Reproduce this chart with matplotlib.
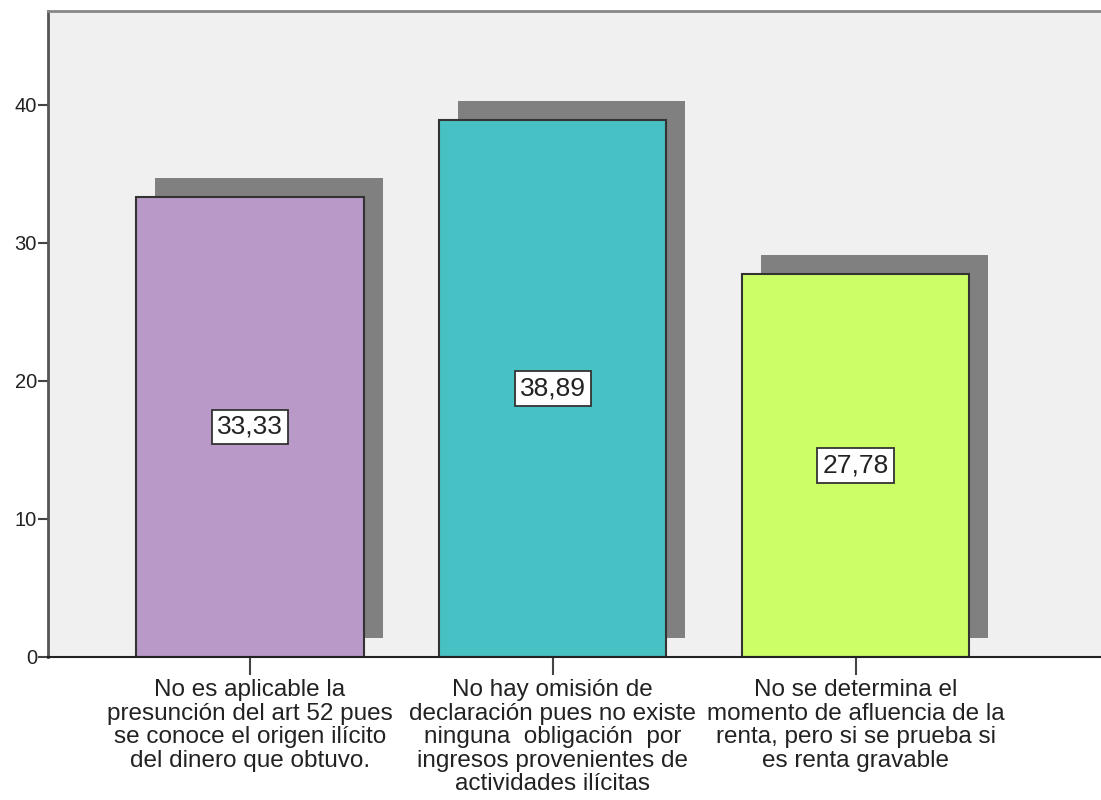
"""Bar chart with drop shadows, SPSS style."""

import matplotlib

matplotlib.use("Agg")
import matplotlib.pyplot as plt
from matplotlib.transforms import ScaledTranslation


categories = [
    "No es aplicable la\npresunción del art 52 pues\nse conoce el origen ilícito\ndel dinero que obtuvo.",
    "No hay omisión de\ndeclaración pues no existe\nninguna  obligación  por\ningresos provenientes de\nactividades ilícitas",
    "No se determina el\nmomento de afluencia de la\nrenta, pero si se prueba si\nes renta gravable",
]
values = [33.33, 38.89, 27.78]
value_labels = ["33,33", "38,89", "27,78"]
bar_colors = ["#b899c8", "#48c1c4", "#ccff66"]
y_ticks = [0, 10, 20, 30, 40]

plt.rcParams["font.family"] = ["Liberation Sans", "DejaVu Sans"]

fig = plt.figure(figsize=(11.01, 8.0), dpi=100)
ax = fig.add_axes([48 / 1101, 1 - 657 / 800, 1 - 48 / 1101, (657 - 11) / 800])
ax.set_facecolor("#f0f0f0")

x = list(range(len(values)))
width = 0.75

# shadow: same bars shifted up and right by a fixed pixel offset
shadow = ax.transData + ScaledTranslation(0.19, 0.19, fig.dpi_scale_trans)
ax.bar(x, values, width=width, color="#808080", transform=shadow, zorder=1)
ax.bar(x, values, width=width, color=bar_colors, edgecolor="#333333",
       linewidth=1.5, zorder=2)

for xi, v, lab in zip(x, values, value_labels):
    ax.text(xi, v / 2, lab, ha="center", va="center", fontsize=19,
            color="#222222", zorder=3,
            bbox=dict(boxstyle="square,pad=0.2", facecolor="white",
                      edgecolor="#333333", linewidth=1.3))

ax.set_xlim(-0.667, 2.81)
ax.set_ylim(0, 46.8)
ax.set_yticks(y_ticks)
ax.set_yticklabels([str(t) for t in y_ticks], fontsize=14.5, color="#222222")
ax.set_xticks(x)
ax.set_xticklabels(categories, fontsize=17.5, color="#222222", linespacing=1.09)

ax.tick_params(axis="y", length=7, width=1.5, color="#444444", pad=1)
ax.tick_params(axis="x", length=13, width=1.5, color="#444444", pad=3)

ax.spines["right"].set_visible(False)
ax.spines["top"].set_color("#888888")
ax.spines["top"].set_linewidth(2)
ax.spines["left"].set_color("#555555")
ax.spines["left"].set_linewidth(2)
ax.spines["bottom"].set_color("#222222")
ax.spines["bottom"].set_linewidth(1.5)

fig.savefig("out.png", dpi=100, facecolor="white")
plt.close(fig)
